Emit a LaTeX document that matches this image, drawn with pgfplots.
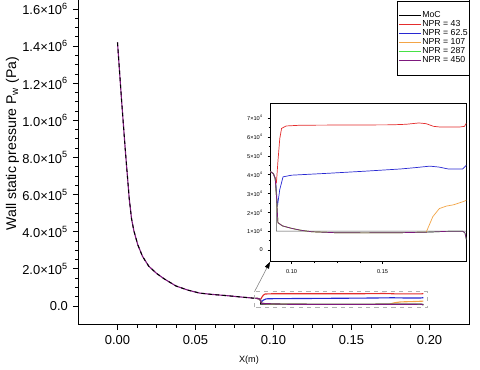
\documentclass[border=0pt]{standalone}
\usepackage{fontspec}
\setmainfont{Liberation Sans}
\usepackage{pgfplots}
\pgfplotsset{compat=1.18}
\usepackage{pgfplotstable}
\usetikzlibrary{arrows.meta}

\definecolor{cRed}{RGB}{228,45,45}
\definecolor{cBlue}{RGB}{40,40,210}
\definecolor{cOrange}{RGB}{243,165,70}
\definecolor{cGreen}{RGB}{70,225,70}
\definecolor{cPurple}{RGB}{125,25,125}

% nozzle wall (all cases coincide)
\pgfplotstableread{
x p
0.0000 1420000
0.0025 1120000
0.0050 840000
0.0075 580000
0.0090 470000
0.0105 405000
0.0130 330000
0.0160 268000
0.0200 215000
0.0250 176000
0.0300 146000
0.0375 108000
0.0450 86000
0.0525 70000
0.0600 63000
0.0700 56000
0.0800 48000
0.0885 41500
}\nozzle

\pgfplotstableread{
x p
0.0885 41500
0.0900 40500
0.0910 38000
0.0916 30000
0.0916 10000
0.1960 10000
}\moc

\pgfplotstableread{
x p
0.0885 41500
0.0900 40500
0.0910 38000
0.0917 36000
0.0925 47000
0.0935 59000
0.0945 64500
0.0970 65800
0.1050 66200
0.1300 66300
0.1550 66400
0.1630 66700
0.1700 67400
0.1740 67000
0.1780 65600
0.1820 65200
0.1920 65200
0.1950 65600
0.1960 67200
}\nprA

\pgfplotstableread{
x p
0.0885 41500
0.0900 40500
0.0910 38000
0.0916 33000
0.0922 23000
0.0935 32000
0.0953 38800
0.1000 39700
0.1200 40700
0.1400 41800
0.1500 42400
0.1600 43000
0.1680 43700
0.1760 44500
0.1810 44000
0.1860 43000
0.1940 43000
0.1960 45000
}\nprB

\pgfplotstableread{
x p
0.0885 41500
0.0900 40500
0.0910 38000
0.0918 27000
0.0925 14500
0.0950 12800
0.1000 11500
0.1050 10500
0.1110 9700
0.1240 9200
0.1400 9100
0.1600 9200
0.1740 9500
0.1776 17700
0.1812 22000
0.1850 23300
0.1890 24000
0.1952 26000
0.1960 26500
}\nprC

\pgfplotstableread{
x p
0.0885 41500
0.0900 40500
0.0910 38000
0.0918 27000
0.0925 14500
0.0950 12800
0.1000 11500
0.1050 10500
0.1110 9700
0.1240 9200
0.1400 9100
0.1600 9200
0.1750 9500
0.1850 9900
0.1940 10000
0.1953 9000
0.1960 5500
}\nprD

\begin{document}
\begin{tikzpicture}
\path[use as bounding box] (-1.9625cm,-1.11cm) rectangle ++(12cm,9.225cm);

\begin{axis}[
  name=main, at={(0,0)}, anchor=south west,
  width=9.775cm, height=8.168cm, scale only axis,
  xmin=-0.025, xmax=0.2256, ymin=-100000, ymax=1660000,
  xtick={0,0.05,0.1,0.15,0.2}, xticklabels={0.00,0.05,0.10,0.15,0.20},
  ytick={0,200000,400000,600000,800000,1000000,1200000,1400000,1600000},
  yticklabels={0.0,2.0×10\textsuperscript{5},4.0×10\textsuperscript{5},6.0×10\textsuperscript{5},8.0×10\textsuperscript{5},1.0×10\textsuperscript{6},1.2×10\textsuperscript{6},1.4×10\textsuperscript{6},1.6×10\textsuperscript{6}},
  scaled ticks=false,
  minor x tick num=3, minor y tick num=3,
  tick align=outside, xtick pos=left, ytick pos=left,
  major tick length=0.14cm, minor tick length=0.08cm,
  axis line style={line width=0.9pt},
  every tick/.style={black, line width=0.7pt},
  tick label style={font=\fontsize{9.2}{10}\selectfont},
  xlabel={X(m)},
  xlabel style={font=\fontsize{6.5}{7}\selectfont, at={(axis description cs:0.436,-0.108)}, anchor=center},
  ylabel={Wall static pressure P\textsubscript{w} (Pa)},
  ylabel style={font=\fontsize{10}{12}\selectfont, at={(axis description cs:-0.169,0.554)}, anchor=center},
  legend style={at={(rel axis cs:1,0.761)}, anchor=south east, draw=black, line width=0.4pt,
    font=\fontsize{6.2}{6.5}\selectfont, inner xsep=0.5pt, inner ysep=7pt,
    row sep=-0.6pt, nodes={inner sep=0.6pt}, cells={anchor=west}},
  legend image code/.code={\draw[#1] (0cm,0cm) -- (0.55cm,0cm);},
]
\addplot[black, line width=0.6pt] table {\moc};
\addlegendentry{MoC}
\addplot[cRed, line width=0.8pt] table {\nprA};
\addlegendentry{NPR = 43}
\addplot[cBlue, line width=0.8pt] table {\nprB};
\addlegendentry{NPR = 62.5}
\addplot[cOrange, line width=0.8pt] table {\nprC};
\addlegendentry{NPR = 107}
\addplot[cGreen, line width=0.8pt] table {\nprD};
\addlegendentry{NPR = 287}
\addplot[cPurple, line width=0.8pt] table {\nprD};
\addlegendentry{NPR = 450}
\addplot[cPurple, line width=0.8pt, forget plot] table {\nozzle};
\addplot[black, line width=0.7pt, dash pattern=on 2.5pt off 2.5pt, forget plot] table {\nozzle};
\draw[gray!60, dashed, line width=0.5pt] (axis cs:0.0878,-7000) rectangle (axis cs:0.1987,77000);
\coordinate (boxTL) at (axis cs:0.0878,77000);
\coordinate (insSW) at (axis cs:0.0978,238700);
\end{axis}

\begin{axis}[
  name=inset, at={(insSW)}, anchor=south west,
  width=4.905cm, height=3.96cm, scale only axis,
  axis background/.style={fill=white},
  xmin=0.0882, xmax=0.196, ymin=-6200, ymax=77800,
  xtick={0.1,0.15}, xticklabels={0.10,0.15}, minor x tick num=3,
  ytick={0,10000,20000,30000,40000,50000,60000,70000},
  yticklabels={0,1×10\textsuperscript{4},2×10\textsuperscript{4},3×10\textsuperscript{4},4×10\textsuperscript{4},5×10\textsuperscript{4},6×10\textsuperscript{4},7×10\textsuperscript{4}},
  minor y tick num=1,
  scaled ticks=false,
  tick align=outside, xtick pos=left, ytick pos=left,
  major tick length=0.06cm, minor tick length=0.035cm,
  axis line style={line width=0.4pt},
  every tick/.style={black, line width=0.3pt},
  tick label style={font=\fontsize{4}{4.5}\selectfont},
]
\addplot[black!70, line width=0.4pt] table {\moc};
\addplot[cRed, line width=0.5pt] table {\nprA};
\addplot[cBlue, line width=0.5pt] table {\nprB};
\addplot[cOrange, line width=0.5pt] table {\nprC};
\addplot[cGreen, line width=0.5pt] table {\nprD};
\addplot[cPurple, line width=0.5pt] table {\nprD};
\end{axis}

\draw[gray, line width=0.4pt, -{Triangle[length=0.17cm,width=0.11cm,color=black]}] (boxTL) -- (inset.south west);
\end{tikzpicture}
\end{document}
